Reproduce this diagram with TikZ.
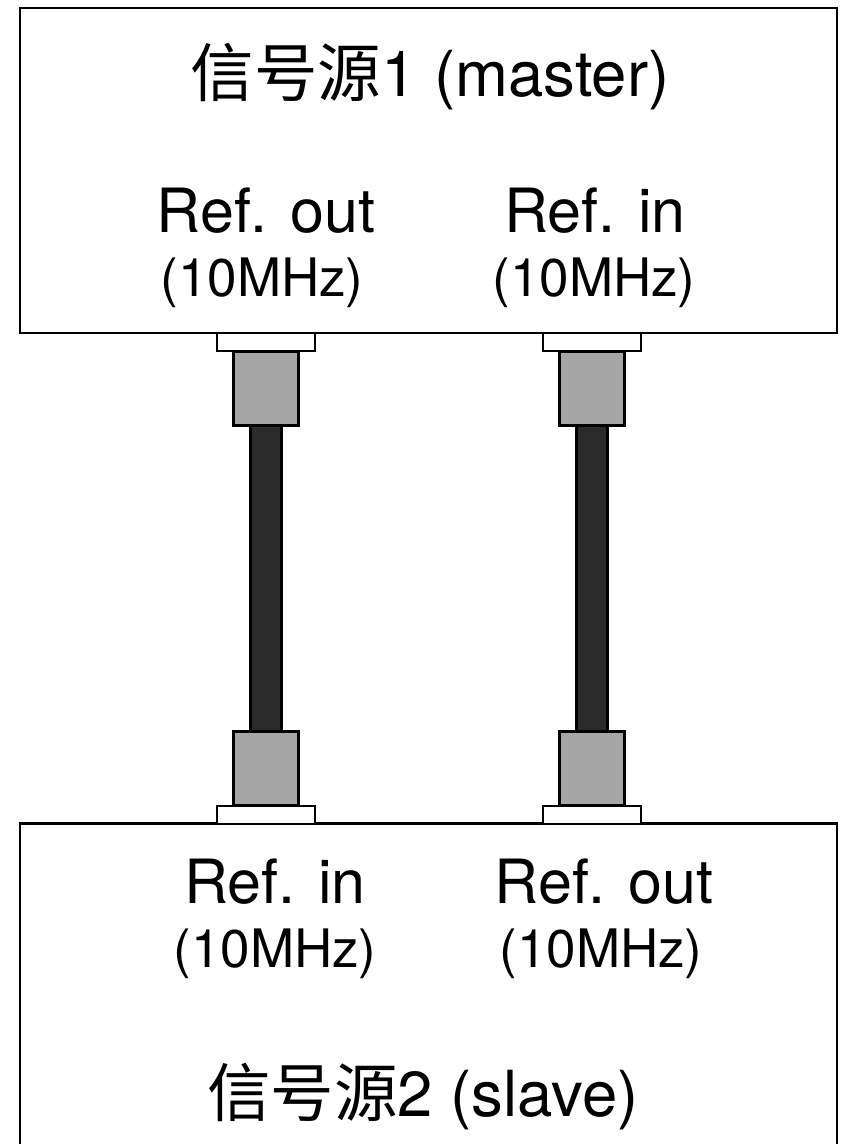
\documentclass[tikz,border=0pt]{standalone}
\usepackage{fontspec}
\setmainfont{TeX Gyre Heros}
\newfontfamily\cjk{Noto Sans CJK SC}
\usetikzlibrary{positioning, backgrounds}

\begin{document}
\begin{tikzpicture}[x=0.5pt, y=-0.5pt, font=\fontsize{30.5}{36}\selectfont,
    unit/.style={draw, line width=1.25pt, minimum width=408.5pt, minimum height=162.5pt, inner sep=0pt, outer sep=0pt},
    plate/.style={draw, fill=white, line width=1pt, minimum width=49pt, minimum height=9pt, inner sep=0pt, outer sep=0pt},
    plug/.style={draw, fill=black!35, line width=1.5pt, minimum width=32.5pt, minimum height=37pt, inner sep=0pt, outer sep=0pt},
    cable/.style={line width=1.5pt, double=black!83, double distance=14pt},
    title/.style={anchor=base, font=\fontsize{31.75}{38}\selectfont},
    port/.style={anchor=base},
    freq/.style={anchor=base, font=\fontsize{26.5}{32}\selectfont}]
    \useasboundingbox (0,0) rectangle (843,1144);
    \clip (0,0) rectangle (843,1144);

    % Units
    \node[unit] (master) at (428.5,170.5) {};
    \node[unit] (slave) at (428.5,986) {};

    % Connectors on the master
    \node[plate, anchor=north] (plateA1) at (265.5,333) {};
    \node[plug, below=0pt of plateA1] (plugA1) {};
    \node[plate, anchor=north] (plateB1) at (592,333) {};
    \node[plug, below=0pt of plateB1] (plugB1) {};

    % Connectors on the slave
    \node[plate, anchor=south] (plateA2) at (265.5,823.5) {};
    \node[plug, above=0pt of plateA2] (plugA2) {};
    \node[plate, anchor=south] (plateB2) at (592,823.5) {};
    \node[plug, above=0pt of plateB2] (plugB2) {};

    % Cables
    \begin{scope}[on background layer]
        \draw[cable] (plugA1.south) -- (plugA2.north);
        \draw[cable] (plugB1.south) -- (plugB2.north);
    \end{scope}

    % Labels of the master
    \node[title] (mastername) at (430,97) {{\cjk 信号源}1 (master)};
    \node[port] (masterout) at (266,233) {Ref. out};
    \node[freq] (masteroutf) at (262,297) {(10MHz)};
    \node[port] (masterin) at (595,233) {Ref. in};
    \node[freq] (masterinf) at (594,297) {(10MHz)};

    % Labels of the slave
    \node[port] (slavein) at (275,903) {Ref. in};
    \node[freq] (slaveinf) at (275,967) {(10MHz)};
    \node[port] (slaveout) at (604,903) {Ref. out};
    \node[freq] (slaveoutf) at (601,967) {(10MHz)};
    \node[title] (slavename) at (423,1116) {{\cjk 信号源}2 (slave)};
\end{tikzpicture}
\end{document}
